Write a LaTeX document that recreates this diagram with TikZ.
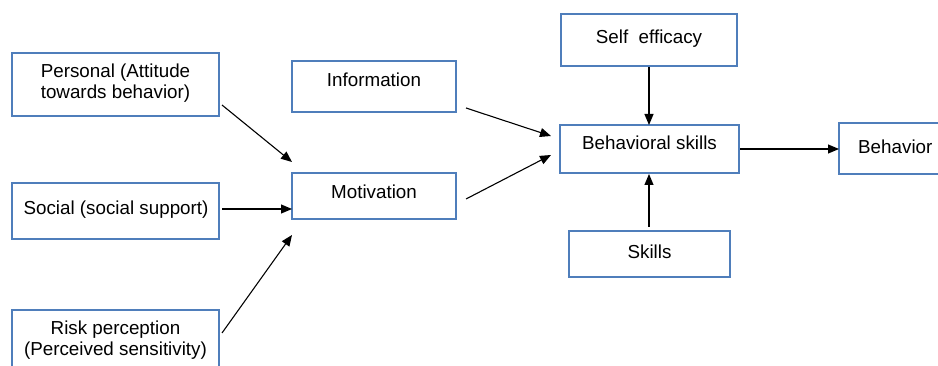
\documentclass[tikz,border=0pt]{standalone}
\usepackage{fontspec}
\setmainfont{Liberation Sans}
\usetikzlibrary{arrows.meta}
\definecolor{boxblue}{HTML}{4F7EBB}
\begin{document}
\begin{tikzpicture}[x=1pt,y=-1pt,
  box/.style={draw=boxblue,line width=1.1pt,fill=white},
  lbl/.style={font=\fontsize{18.8}{21.5}\selectfont,align=center,inner sep=0pt,anchor=center},
  arr/.style={-{Triangle[length=11pt,width=9pt]},line width=1.1pt,black}]
\clip (0,0) rectangle (938,366);
\fill[white] (0,0) rectangle (938,366);
% boxes
\draw[box] (12,53) rectangle (219,116);
\draw[box] (12,183) rectangle (219,239);
\draw[box] (12,310) rectangle (219,372);
\draw[box] (292,61) rectangle (456,112);
\draw[box] (292,173) rectangle (456,219);
\draw[box] (561,14) rectangle (737,66);
\draw[box] (560,125) rectangle (739,173);
\draw[box] (569,231) rectangle (730,277);
\draw[box] (839,123) rectangle (945,174);
% connector end points
\coordinate (perS) at (222,105);
\coordinate (perE) at (292,162);
\coordinate (socS) at (222,209);
\coordinate (socE) at (292,209);
\coordinate (riskS) at (222,333);
\coordinate (riskE) at (292,235);
\coordinate (infS) at (466,108);
\coordinate (infE) at (551,136);
\coordinate (motS) at (466,199);
\coordinate (motE) at (551,155);
\coordinate (seS) at (649,67);
\coordinate (seE) at (649,125);
\coordinate (skS) at (649,227);
\coordinate (skE) at (649,174);
\coordinate (bsS) at (740,149);
\coordinate (bsE) at (839,149);
% texts
\node[lbl] (tper) at (115.5,83) {Personal (Attitude\\towards behavior)};
\node[lbl] (tsoc) at (116,210) {Social (social support)};
\node[lbl] (trisk) at (115.5,340) {Risk perception\\(Perceived sensitivity)};
\node[lbl] (tinf) at (374,80) {Information};
\node[lbl] (tmot) at (374,192) {Motivation};
\node[lbl] (tse) at (649,39) {Self\ \ efficacy};
\node[lbl] (tbs) at (649.5,143) {Behavioral skills};
\node[lbl] (tsk) at (649.5,252) {Skills};
\node[lbl,anchor=west] (tbeh) at (858,147) {Behavior};
% arrows
\draw[arr] (perS) -- (perE);
\draw[arr] (socS) -- (socE);
\draw[arr] (riskS) -- (riskE);
\draw[arr] (infS) -- (infE);
\draw[arr] (motS) -- (motE);
\draw[arr] (seS) -- (seE);
\draw[arr] (skS) -- (skE);
\draw[arr] (bsS) -- (bsE);
\end{tikzpicture}
\end{document}
